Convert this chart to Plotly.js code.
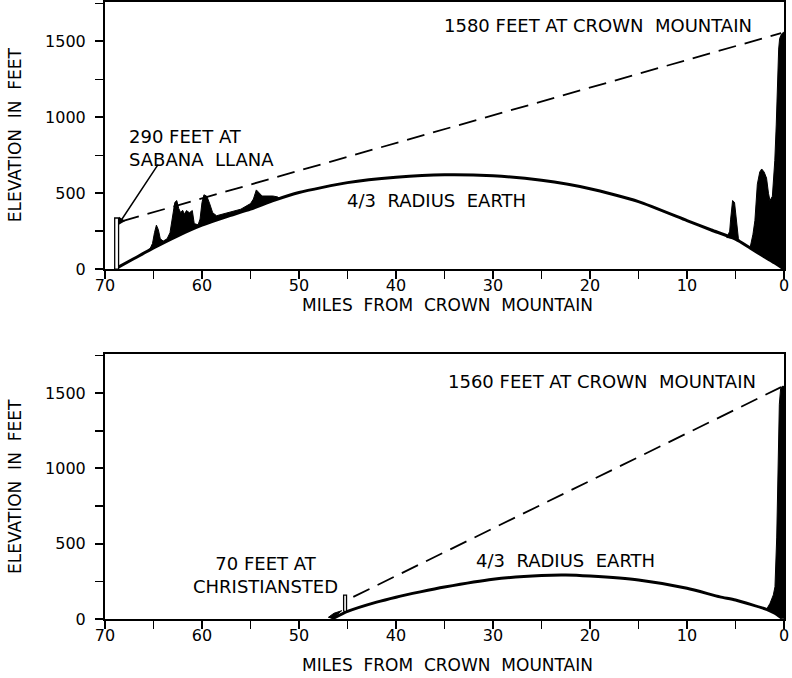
<!DOCTYPE html>
<html>
<head>
<meta charset="utf-8">
<script src="https://cdn.plot.ly/plotly-3.0.1.min.js"></script>
<style>html,body{margin:0;padding:0;background:#fff;}#chart{width:792px;height:678px;}</style>
</head>
<body>
<div id="chart"></div>
<script>
// ---------- DATA ----------
// Top profile: Sabana Llana -> Crown Mountain
const topCurveMiles = [69, 67, 65, 62.5, 60, 57.5, 55, 52.5, 50, 45, 40, 35, 30, 25, 20, 15, 10, 7.5, 5, 3.5, 2, 1, 0];
const topCurveFeet  = [0, 70, 140, 220, 290, 345, 395, 455, 505, 570, 605, 622, 615, 585, 530, 445, 320, 258, 198, 140, 80, 42, 0];

const topHillsMiles = [65.4, 65.1, 64.9, 64.7, 64.5, 64.3, 64.0, 63.6, 63.3, 63.0, 62.8, 62.6, 62.4, 62.2, 62.0, 61.8, 61.6, 61.3, 61.0, 60.8, 60.4, 60.2, 60.0, 59.8, 59.5, 59.2, 58.9, 58.5, 57.5, 56.0, 55.0, 54.7, 54.4, 54.1, 53.8, 53.3, 52.7, 52.2, 52.0];
const topHillsFeet  = [128, 170, 240, 290, 260, 200, 185, 200, 240, 360, 440, 452, 400, 372, 388, 362, 386, 372, 386, 300, 292, 330, 440, 490, 480, 430, 372, 352, 370, 395, 432, 462, 522, 502, 482, 482, 482, 476, 465];

const topSpikeMiles = [5.9, 5.6, 5.5, 5.4, 5.3, 5.1, 5.0, 4.9, 4.7, 4.5];
const topSpikeFeet  = [205, 250, 330, 420, 452, 440, 380, 290, 200, 180];

const topCrownMiles = [3.5, 3.2, 3.0, 2.75, 2.5, 2.3, 2.05, 1.8, 1.6, 1.45, 1.2, 0.95, 0.8, 0.7, 0.55, 0.45, 0.25, 0.05, 0];
const topCrownFeet  = [140, 230, 320, 560, 640, 660, 640, 600, 500, 452, 480, 715, 950, 1200, 1450, 1520, 1550, 1560, 1560];

const topPathMiles = [68.3, 0.3];
const topPathFeet  = [315, 1555];
const topTowerMiles = [69.0, 68.6];
const topTowerFeet  = [0, 337];

// Bottom profile: Christiansted -> Crown Mountain
const botCurveMiles = [46.6, 45, 42, 40, 37.5, 35, 30, 25, 22.5, 20, 15, 10, 6.6, 5, 1.8, 1, 0.2];
const botCurveFeet  = [0, 50, 112, 145, 180, 212, 264, 289, 292, 285, 259, 204, 147, 126, 64, 40, 5];

const botWedgeMiles = [47.0, 46.4, 45.6];
const botWedgeFeet  = [10, 38, 55];

const botCrownMiles = [1.8, 1.44, 1.1, 0.93, 0.75, 0.65, 0.48, 0.35, 0.2, 0, 0];
const botCrownFeet  = [64, 104, 160, 214, 544, 985, 1426, 1530, 1545, 1545, 5];

const botPathMiles = [44.4, 0.3];
const botPathFeet  = [147, 1540];
const botTowerMiles = [45.4, 45.1];
const botTowerFeet  = [50, 159];

const xTickVals = [70, 60, 50, 40, 30, 20, 10, 0];
const xTickText = ['70', '60', '50', '40', '30', '20', '10', '0'];
const yTickVals = [0, 500, 1000, 1500];
const yTickText = ['0', '500', '1000', '1500'];

// ---------- helpers ----------
function closeOnCurve(px, py, cx, cy) {
  const lo = Math.min(...px), hi = Math.max(...px);
  const bx = [], by = [];
  for (let i = cx.length - 1; i >= 0; i--) {
    if (cx[i] >= lo && cx[i] <= hi) { bx.push(cx[i]); by.push(cy[i]); }
  }
  return { x: px.concat(bx), y: py.concat(by) };
}
function rect(mx, fy) {
  return { x: [mx[0], mx[1], mx[1], mx[0], mx[0]], y: [fy[0], fy[0], fy[1], fy[1], fy[0]] };
}
function fillTrace(poly, xa, ya) {
  return { x: poly.x, y: poly.y, xaxis: xa, yaxis: ya, type: 'scatter', mode: 'lines',
    fill: 'toself', fillcolor: '#000', line: { color: '#000', width: 1 }, hoverinfo: 'skip' };
}

const traces = [];
// top
traces.push(fillTrace(closeOnCurve(topHillsMiles, topHillsFeet, topCurveMiles, topCurveFeet), 'x', 'y'));
traces.push(fillTrace(closeOnCurve(topSpikeMiles, topSpikeFeet, topCurveMiles, topCurveFeet), 'x', 'y'));
traces.push(fillTrace(closeOnCurve(topCrownMiles, topCrownFeet, topCurveMiles, topCurveFeet), 'x', 'y'));
traces.push({ x: topCurveMiles, y: topCurveFeet, xaxis: 'x', yaxis: 'y', type: 'scatter', mode: 'lines',
  line: { color: '#000', width: 3, shape: 'spline', smoothing: 0.6 } });
traces.push({ x: topPathMiles, y: topPathFeet, xaxis: 'x', yaxis: 'y', type: 'scatter', mode: 'lines',
  line: { color: '#000', width: 1.8, dash: '18px,9px' } });
const tr1 = rect(topTowerMiles, topTowerFeet);
traces.push({ x: tr1.x, y: tr1.y, xaxis: 'x', yaxis: 'y', type: 'scatter', mode: 'lines', fill: 'toself',
  fillcolor: '#fff', line: { color: '#000', width: 1.3 } });
// bottom
traces.push(fillTrace(closeOnCurve(botWedgeMiles, botWedgeFeet, botCurveMiles, botCurveFeet), 'x2', 'y2'));
traces.push(fillTrace(closeOnCurve(botCrownMiles, botCrownFeet, botCurveMiles, botCurveFeet), 'x2', 'y2'));
traces.push({ x: botCurveMiles, y: botCurveFeet, xaxis: 'x2', yaxis: 'y2', type: 'scatter', mode: 'lines',
  line: { color: '#000', width: 3, shape: 'spline', smoothing: 0.6 } });
traces.push({ x: botPathMiles, y: botPathFeet, xaxis: 'x2', yaxis: 'y2', type: 'scatter', mode: 'lines',
  line: { color: '#000', width: 1.8, dash: '18px,9px' } });
const tr2 = rect(botTowerMiles, botTowerFeet);
traces.push({ x: tr2.x, y: tr2.y, xaxis: 'x2', yaxis: 'y2', type: 'scatter', mode: 'lines', fill: 'toself',
  fillcolor: '#fff', line: { color: '#000', width: 1.3 } });

const FONT = 'DejaVu Sans, Liberation Sans, sans-serif';
function xAxis(anchor) {
  return { anchor: anchor, range: [70, 0], autorange: false, tickvals: xTickVals, ticktext: xTickText,
    ticks: 'outside', ticklen: 8, tickwidth: 2, tickcolor: '#000', ticklabelstandoff: -7,
    minor: { dtick: 5, tick0: 0, ticks: 'outside', ticklen: 8, tickwidth: 1.5, tickcolor: '#000', showgrid: false },
    showline: true, linecolor: '#000', linewidth: 2, mirror: true, showgrid: false, zeroline: false,
    tickfont: { family: FONT, size: 16, color: '#000' }, fixedrange: true };
}
function yAxis(anchor, dom) {
  return { anchor: anchor, domain: dom, range: [0, 1760], autorange: false, tickvals: yTickVals, ticktext: yTickText,
    ticks: 'outside', ticklen: 8, tickwidth: 2, tickcolor: '#000', ticklabelstandoff: 6,
    minor: { dtick: 250, tick0: 0, ticks: 'outside', ticklen: 8, tickwidth: 1.5, tickcolor: '#000', showgrid: false },
    showline: true, linecolor: '#000', linewidth: 2, mirror: true, showgrid: false, zeroline: false,
    tickfont: { family: FONT, size: 16, color: '#000' }, fixedrange: true };
}

const afont = { family: FONT, size: 18, color: '#000' };
const tfont = { family: FONT, size: 17, color: '#000' };
function note(xref, yref, x, y, text, extra) {
  return Object.assign({ xref: xref, yref: yref, x: x, y: y, text: text, showarrow: false,
    xanchor: 'center', yanchor: 'middle', font: afont }, extra || {});
}
const layout = {
  width: 792, height: 678,
  margin: { l: 105, r: 8, t: 2, b: 59 },
  paper_bgcolor: '#fff', plot_bgcolor: '#fff',
  showlegend: false, hovermode: false,
  xaxis: xAxis('y'), yaxis: yAxis('x', [0.567, 1]),
  xaxis2: xAxis('y2'), yaxis2: yAxis('x2', [0, 0.4295]),
  annotations: [
    note('paper', 'paper', 0.505, 0.509, 'MILES  FROM  CROWN  MOUNTAIN', { font: tfont }),
    note('paper', 'paper', 0.505, -0.075, 'MILES  FROM  CROWN  MOUNTAIN', { font: tfont }),
    note('paper', 'paper', -0.1325, 0.784, 'ELEVATION  IN  FEET', { textangle: -90, font: tfont }),
    note('paper', 'paper', -0.1325, 0.214, 'ELEVATION  IN  FEET', { textangle: -90, font: tfont }),
    note('x', 'y', 19.2, 1605, '1580 FEET AT CROWN  MOUNTAIN'),
    note('x', 'y', 67.7, 800, '290 FEET AT<br>SABANA  LLANA', { xanchor: 'left', align: 'left' }),
    { xref: 'x', yref: 'y', x: 68.66, y: 290, text: '', showarrow: true, arrowhead: 2, arrowsize: 1,
      arrowwidth: 1.5, arrowcolor: '#000', ax: 41, ay: -62 },
    note('x', 'y', 35.8, 452, '4/3  RADIUS  EARTH'),
    note('x2', 'y2', 18.76, 1580, '1560 FEET AT CROWN  MOUNTAIN'),
    note('x2', 'y2', 53.5, 291, '70 FEET AT<br>CHRISTIANSTED', { align: 'center' }),
    note('x2', 'y2', 22.5, 390, '4/3  RADIUS  EARTH')
  ]
};

Plotly.newPlot('chart', traces, layout, { staticPlot: true, displayModeBar: false });
</script>
</body>
</html>
